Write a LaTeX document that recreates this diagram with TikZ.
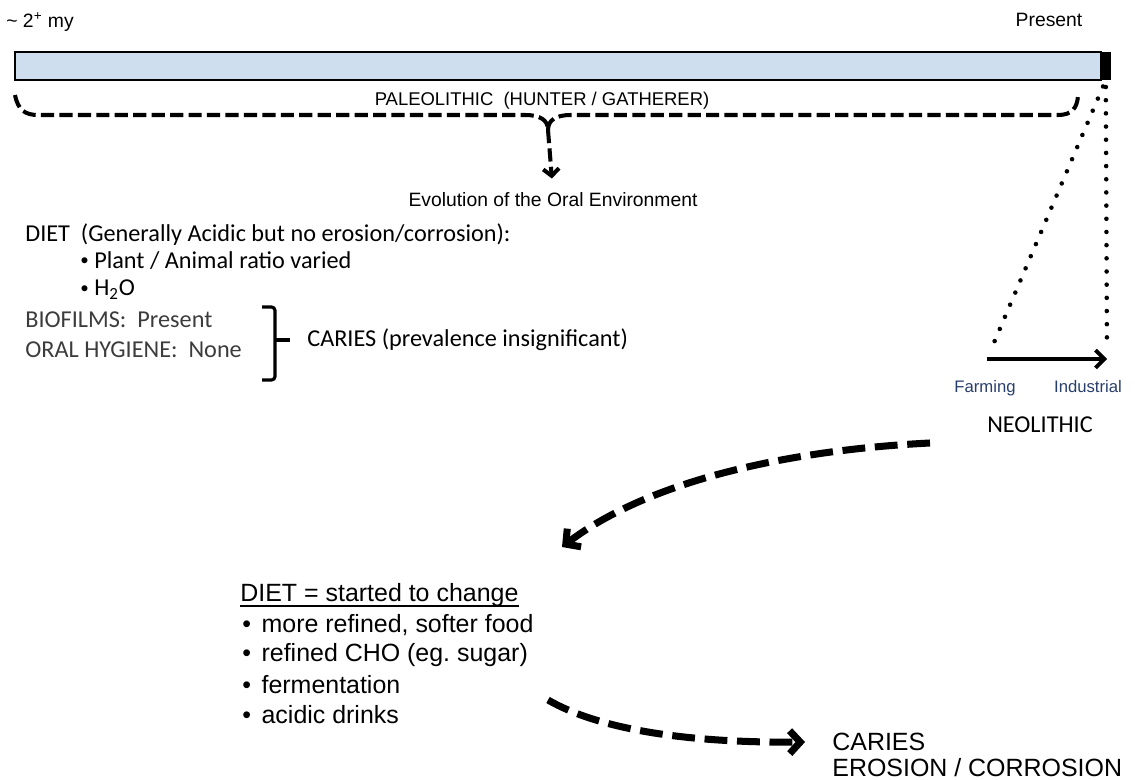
\documentclass[tikz,border=0pt]{standalone}
\usepackage{fontspec}
\setmainfont{Liberation Sans}
\newfontfamily\calibfont{Carlito}
\usetikzlibrary{positioning,arrows.meta}
\definecolor{barblue}{RGB}{206,222,238}
\definecolor{notegray}{RGB}{60,60,60}
\definecolor{stageblue}{RGB}{40,62,108}
\newcommand{\smallbul}{\raisebox{0.12em}{\scalebox{0.7}{\textbullet}}}

\begin{document}
\begin{tikzpicture}[x=0.02cm, y=-0.02cm,
    era/.style={font=\fontsize{10.5}{12}\selectfont, inner sep=0pt},
    cal/.style={font=\calibfont\fontsize{13.8}{16}\selectfont, inner sep=0pt, anchor=west},
    big/.style={font=\fontsize{14.2}{17}\selectfont, inner sep=0pt, anchor=west},
    stage/.style={font=\fontsize{9.5}{11}\selectfont, text=stageblue, inner sep=0pt, anchor=base},
    timebar/.style={rectangle, draw=black, line width=0.9pt, fill=barblue,
                    minimum width=21.72cm, minimum height=0.56cm, inner sep=0pt, outer sep=0pt},
    brace/.style={line width=2.3pt, dash pattern=on 7.5pt off 3pt},
    bigdash/.style={line width=4pt, dash pattern=on 13pt off 5.5pt,
                    -{Straight Barb[length=6pt,width=13pt]}},
    dots/.style={line width=2.6pt, line cap=round, dash pattern=on 0pt off 7.5pt}
]
\useasboundingbox (0,0) rectangle (1135,780);

% time line
\node[timebar, anchor=north west] (bar) at (15,52) {};
\node[rectangle, fill=black, anchor=west, minimum width=0.2cm, minimum height=0.56cm,
      inner sep=0pt, outer sep=0pt] (cap) at (bar.east) {};
\node[era, anchor=west, font=\fontsize{11}{13}\selectfont] (past) at (6,22) {\textasciitilde{} 2\textsuperscript{+} my};
\node[era, font=\fontsize{11}{13}\selectfont] (present) at (1049,20) {Present};

% paleolithic brace
\node[era] (paleo) at (542,101) {PALEOLITHIC\ \ (HUNTER / GATHERER)};
\coordinate (fork) at (548,130);
\draw[brace] (15,95) .. controls (18,110) and (25,115) .. (38,115) -- (525,115)
    .. controls (540,115) and (548,120) .. (fork);
\draw[brace] (fork) .. controls (548,120) and (556,115) .. (571,115) -- (1058,115)
    .. controls (1072,115) and (1077,108) .. (1078,96);
\node[era, font=\fontsize{11}{13}\selectfont] (evol) at (553,200) {Evolution of the Oral Environment};
\draw[brace, -{Straight Barb[length=4pt,width=9pt]}, shorten >=8pt] (fork) -- (evol.north);

% oral environment
\node[cal] (diet) at (25,235) {DIET\ \ (Generally Acidic but no erosion/corrosion):};
\node[cal] (plant) at (80,261) {\smallbul\ Plant / Animal ratio varied};
\node[cal] (water) at (80,290) {\smallbul\ H\textsubscript{2}O};
\node[cal, text=notegray] (bio) at (25,320) {BIOFILMS:\ \ Present};
\node[cal, text=notegray] (hyg) at (25,350) {ORAL HYGIENE:\ \ None};
\node[cal] (caries) at (307,340) {CARIES (prevalence insignificant)};
\draw[line width=1.8pt, rounded corners=2pt] (262,307) -- (275,307) -- (275,380) -- (262,380);
\draw[line width=1.8pt] (275,340) -- (290,340);

% neolithic
\coordinate (farmpt) at (987,359);
\coordinate (indpt) at (1107,359);
\draw[dots, shorten <=4pt, shorten >=5pt] (cap.south) -- (farmpt);
\draw[dots, shorten <=4pt, shorten >=5pt] (cap.south) -- (indpt);
\draw[line width=2.2pt, -{Straight Barb[length=5pt,width=10pt]}] (farmpt) -- (indpt);
\node[stage] (farm) at (985,392) {Farming};
\node[stage] (indus) at (1088,392) {Industrial};
\node[cal, anchor=center] (neo) at (1040,425) {NEOLITHIC};

% diet change
\coordinate (turn) at (930,443);
\coordinate (dietin) at (562,547);
\draw[bigdash] (turn) .. controls (790,450) and (650,480) .. (dietin);

\node[big] (change) at (240,595) {DIET = started to change};
\draw[line width=0.9pt] ([yshift=-2.5pt]change.base west) -- ([yshift=-2.5pt]change.base east);
\node[big] (item1) at (242,625) {\textbullet\hspace{6pt}more refined, softer food};
\node[big] (item2) at (242,655) {\textbullet\hspace{6pt}refined CHO (eg.\ sugar)};
\node[big] (item3) at (242,685) {\textbullet\hspace{6pt}fermentation};
\node[big] (item4) at (242,715) {\textbullet\hspace{6pt}acidic drinks};

\node[big, align=left, font=\fontsize{14.2}{14.8}\selectfont] (outcome) at (832,755)
    {CARIES\\EROSION / CORROSION};
\coordinate (leave) at (548,700);
\coordinate (outin) at (805,742);
\draw[bigdash] (leave) .. controls (600,730) and (690,743) .. (outin);

\end{tikzpicture}
\end{document}
